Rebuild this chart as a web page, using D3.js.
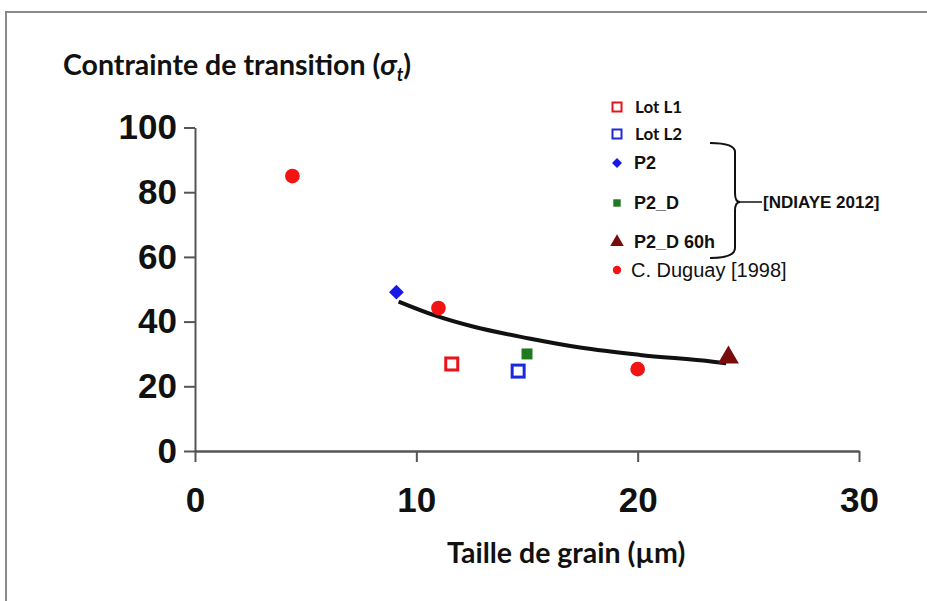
<!DOCTYPE html>
<html>
<head>
<meta charset="utf-8">
<script src="https://cdn.jsdelivr.net/npm/d3@7"></script>
<style>
  html, body { margin: 0; padding: 0; background: #fff; }
  svg { display: block; }
</style>
</head>
<body>
<svg id="chart" width="927" height="601"></svg>
<script>
// --- data ---
var xTicks = [0, 10, 20, 30];
var yTicks = [0, 20, 40, 60, 80, 100];

var lotL1 = [{ x: 11.6, y: 26.9 }];
var lotL2 = [{ x: 14.6, y: 24.7 }];
var p2 = [{ x: 9.1, y: 49.1 }];
var p2D = [{ x: 15.0, y: 30.0 }];
var p2D60h = [{ x: 24.1, y: 28.9 }];
var duguay = [{ x: 4.4, y: 85.0 }, { x: 11.0, y: 44.2 }, { x: 20.0, y: 25.3 }];

// fitted trend line
var trendX = [9.2, 10.8, 12.6, 15.1, 17.4, 20.1, 23.4, 24.0];
var trendY = [46.2, 42.0, 38.4, 34.8, 32.0, 29.7, 27.6, 27.1];

var legendLabels = ['Lot L1', 'Lot L2', 'P2', 'P2_D', 'P2_D 60h', 'C. Duguay [1998]'];
var bracketLabel = '[NDIAYE 2012]';

(function(){
    'use strict';

    var svg = d3.select('#chart'),
        x = d3.scaleLinear().domain([0, 30]).range([195, 859]),
        y = d3.scaleLinear().domain([0, 100]).range([451, 127.5]),
        sym = d3.symbol();

    // picture frame
    svg.append('path')
        .attr('d', 'M6,601 L6,12 L927,12')
        .attr('fill', 'none')
        .attr('stroke', '#8a8a8a')
        .attr('stroke-width', 2);

    // y axis
    var yAxis = svg.append('g')
        .attr('transform', 'translate(' + x(0) + ',0)')
        .call(d3.axisLeft(y).tickValues(yTicks).tickSize(11).tickPadding(7).tickSizeOuter(0));
    yAxis.select('.domain').attr('stroke', '#555').attr('stroke-width', 2);
    yAxis.selectAll('.tick line').attr('stroke', '#555').attr('stroke-width', 2);
    yAxis.selectAll('.tick text')
        .attr('fill', '#111')
        .style('font-family', '"Liberation Sans", Arial, sans-serif')
        .style('font-weight', 'bold')
        .style('font-size', '35px');

    // x axis
    var xAxis = svg.append('g')
        .attr('transform', 'translate(0,' + y(0) + ')')
        .call(d3.axisBottom(x).tickValues(xTicks).tickSize(11).tickPadding(25).tickSizeOuter(0));
    xAxis.select('.domain').attr('stroke', '#555').attr('stroke-width', 2.5);
    xAxis.selectAll('.tick line').attr('stroke', '#555').attr('stroke-width', 2);
    xAxis.selectAll('.tick text')
        .attr('fill', '#111')
        .style('font-family', '"Liberation Sans", Arial, sans-serif')
        .style('font-weight', 'bold')
        .style('font-size', '35px');
    // the first tick is drawn across the axis
    xAxis.selectAll('.tick line').filter(function(d){ return d === 0; })
        .attr('y1', -1).attr('y2', 11);

    // titles
    var title = svg.append('text')
        .attr('x', 63).attr('y', 75)
        .attr('fill', '#111')
        .style('font-family', 'Lato, "Open Sans", sans-serif')
        .style('font-weight', 'bold')
        .style('font-size', '28.5px');
    title.append('tspan').text('Contrainte de transition (');
    title.append('tspan').style('font-style', 'italic').text('\u03C3');
    title.append('tspan').style('font-style', 'italic').style('font-size', '18px').attr('dy', 6).text('t');
    title.append('tspan').attr('dy', -6).text(')');

    svg.append('text')
        .attr('x', 447).attr('y', 563)
        .attr('fill', '#111')
        .style('font-family', 'Lato, "Open Sans", sans-serif')
        .style('font-weight', 'bold')
        .style('font-size', '28.5px')
        .text('Taille de grain (\u00B5m)');

    // trend line
    var trend = trendX.map(function(v, i){ return { x: v, y: trendY[i] }; });
    svg.append('path')
        .datum(trend)
        .attr('d', d3.line().x(function(d){ return x(d.x); }).y(function(d){ return y(d.y); }).curve(d3.curveMonotoneX))
        .attr('fill', 'none')
        .attr('stroke', '#111')
        .attr('stroke-width', 4);

    // markers
    function squareOpen(g, data, color, size){
        g.selectAll(null).data(data).enter().append('rect')
            .attr('x', function(d){ return x(d.x) - size / 2; })
            .attr('y', function(d){ return y(d.y) - size / 2; })
            .attr('width', size).attr('height', size)
            .attr('fill', '#fff').attr('stroke', color).attr('stroke-width', 3);
    }
    function symbolMark(g, data, type, area, color, rot){
        g.selectAll(null).data(data).enter().append('path')
            .attr('transform', function(d){ return 'translate(' + x(d.x) + ',' + y(d.y) + ')' + (rot ? ' rotate(' + rot + ')' : ''); })
            .attr('d', sym.type(type).size(area)())
            .attr('fill', color);
    }

    var marks = svg.append('g');
    squareOpen(marks, lotL1, '#e8141c', 12);
    squareOpen(marks, lotL2, '#1b2bdc', 12);
    symbolMark(marks, p2D, d3.symbolSquare, 120, '#1f7a1f');
    symbolMark(marks, p2, d3.symbolSquare, 110, '#1a1ae6', 45);
    symbolMark(marks, p2D60h, d3.symbolTriangle, 190, '#7a0b0b');
    symbolMark(marks, duguay, d3.symbolCircle, 170, '#f21313');

    // legend
    var legendY = [107, 134, 163, 203, 242, 270],
        lg = svg.append('g');

    function legMark(i, draw){
        var g = lg.append('g').attr('transform', 'translate(617,' + legendY[i] + ')');
        draw(g);
    }
    legMark(0, function(g){ g.append('rect').attr('x', -4.5).attr('y', -4.5).attr('width', 9).attr('height', 9)
        .attr('fill', '#fff').attr('stroke', '#e8141c').attr('stroke-width', 2); });
    legMark(1, function(g){ g.append('rect').attr('x', -4.5).attr('y', -4.5).attr('width', 9).attr('height', 9)
        .attr('fill', '#fff').attr('stroke', '#1b2bdc').attr('stroke-width', 2); });
    legMark(2, function(g){ g.append('path').attr('d', sym.type(d3.symbolSquare).size(50)()).attr('transform', 'rotate(45)').attr('fill', '#1a1ae6'); });
    legMark(3, function(g){ g.append('path').attr('d', sym.type(d3.symbolSquare).size(55)()).attr('fill', '#1f7a1f'); });
    legMark(4, function(g){ g.append('path').attr('d', sym.type(d3.symbolTriangle).size(80)()).attr('fill', '#7a0b0b'); });
    legMark(5, function(g){ g.append('path').attr('d', sym.type(d3.symbolCircle).size(55)()).attr('fill', '#f21313'); });

    lg.selectAll('text.leg').data(legendLabels).enter().append('text')
        .attr('class', 'leg')
        .attr('x', function(d, i){ return i < 2 ? 635 : (i < 5 ? 634 : 631); })
        .attr('y', function(d, i){ return legendY[i]; })
        .attr('dy', '0.36em')
        .attr('fill', '#111')
        .style('font-family', function(d, i){ return i < 2 ? 'Lato, sans-serif' : '"Liberation Sans", Arial, sans-serif'; })
        .style('font-weight', function(d, i){ return i < 5 ? 'bold' : 'normal'; })
        .style('font-size', function(d, i){ return i < 2 ? '17px' : (i < 5 ? '18px' : '20px'); })
        .text(function(d){ return d; });

    // bracket grouping P2 .. P2_D 60h
    svg.append('path')
        .attr('d', 'M710,143 Q735,143 735,152 L735,193 Q735,202 740,202 Q735,202 735,211 L735,248 Q735,258 710,258')
        .attr('fill', 'none')
        .attr('stroke', '#111')
        .attr('stroke-width', 2);
    svg.append('path')
        .attr('d', 'M740,202 L762,202')
        .attr('stroke', '#111')
        .attr('stroke-width', 1.5);
    svg.append('text')
        .attr('x', 763).attr('y', 202).attr('dy', '0.36em')
        .attr('fill', '#111')
        .style('font-family', '"Liberation Sans", Arial, sans-serif')
        .style('font-weight', 'bold')
        .style('font-size', '17px')
        .text(bracketLabel);
})();
</script>
</body>
</html>
